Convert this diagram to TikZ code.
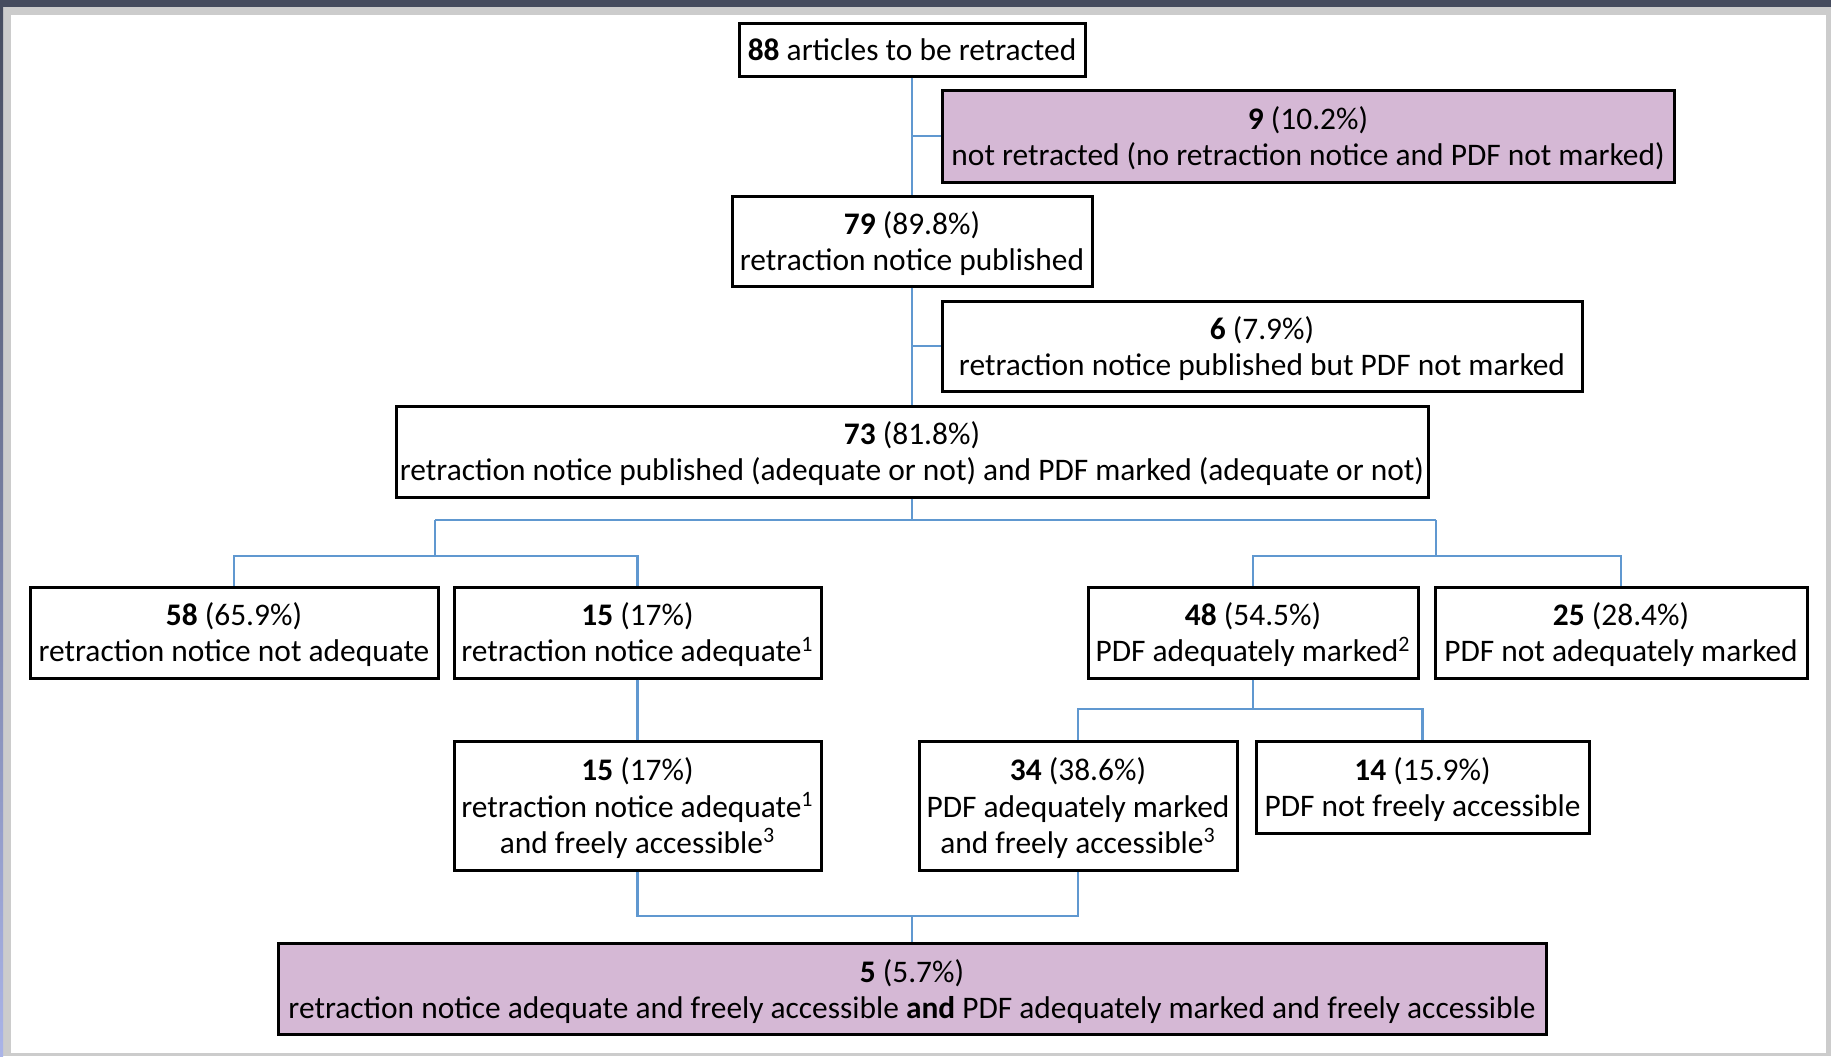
\documentclass[tikz,border=0pt]{standalone}
\usepackage{fontspec}
\setmainfont{Carlito}
\usepackage{tikz}
\usetikzlibrary{positioning}
\usepackage{xcolor}
\definecolor{boxpurple}{RGB}{213,184,213}
\definecolor{linkblue}{RGB}{96,152,208}
\definecolor{bardark}{RGB}{69,75,94}
\definecolor{framegray}{RGB}{204,204,204}
\definecolor{edgeblue}{RGB}{170,180,232}

\begin{document}
\begin{tikzpicture}[
  x=0.5pt, y=-0.5pt,
  every node/.style={font=\fontsize{15.7pt}{18pt}\selectfont, align=center},
  box/.style   ={rectangle, draw, line width=1.5pt, fill=white, inner sep=0pt, text depth=0pt},
  hilite/.style={box, fill=boxpurple},
  link/.style  ={draw=linkblue, line width=1.2pt}
]

%% screenshot frame
\useasboundingbox (0,0) rectangle (1831,1056);
\fill[framegray] (0,0) rectangle (1831,1056);
\fill[white] (11,15) rectangle (1826,1053);
\fill[bardark] (0,0) rectangle (1831,7);
\shade[top color=bardark, bottom color=edgeblue] (0,7) rectangle (3,1056);

%% trunk
\node[box, minimum width=173pt, minimum height=26.5pt] (n88) at (912,49.5)
  {\textbf{88} articles to be retracted};
\node[hilite, minimum width=366pt, minimum height=46pt] (n9) at (1308,136)
  {\textbf{9} (10.2\%)\\not retracted (no retraction notice and PDF not marked)};
\node[box, minimum width=180pt, minimum height=45pt] (n79) at (912,241)
  {\textbf{79} (89.8\%)\\retraction notice published};
\node[box, minimum width=320pt, minimum height=45pt] (n6) at (1262,346)
  {\textbf{6} (7.9\%)\\retraction notice published but PDF not marked};
\node[box, minimum width=516pt, minimum height=45.5pt] (n73) at (912,451.5)
  {\textbf{73} (81.8\%)\\retraction notice published (adequate or not) and PDF marked (adequate or not)};

%% second row
\node[box, minimum width=204pt, minimum height=45.5pt] (n58) at (234,632.5)
  {\textbf{58} (65.9\%)\\retraction notice not adequate};
\node[box, minimum width=183.5pt, minimum height=45.5pt] (n15) at (637.5,632.5)
  {\textbf{15} (17\%)\\retraction notice adequate\textsuperscript{1}};
\node[box, minimum width=165pt, minimum height=45.5pt] (n48) at (1253,632.5)
  {\textbf{48} (54.5\%)\\PDF adequately marked\textsuperscript{2}};
\node[box, minimum width=186pt, minimum height=45.5pt] (n25) at (1621,632.5)
  {\textbf{25} (28.4\%)\\PDF not adequately marked};

%% third row
\node[box, minimum width=183.5pt, minimum height=64.5pt] (n15b) at (637.5,805.5)
  {\textbf{15} (17\%)\\retraction notice adequate\textsuperscript{1}\\and freely accessible\textsuperscript{3}};
\node[box, minimum width=159pt, minimum height=64.5pt] (n34) at (1078,805.5)
  {\textbf{34} (38.6\%)\\PDF adequately marked\\and freely accessible\textsuperscript{3}};
\node[box, minimum width=166.5pt, minimum height=46pt] (n14) at (1422.5,787)
  {\textbf{14} (15.9\%)\\PDF not freely accessible};

%% result
\node[hilite, minimum width=634pt, minimum height=45.5pt] (n5) at (912,988.5)
  {\textbf{5} (5.7\%)\\retraction notice adequate and freely accessible \textbf{and} PDF adequately marked and freely accessible};

%% junction points
\coordinate (split)    at (912,520);
\coordinate (splitL)   at (435,520);
\coordinate (splitR)   at (1436,520);
\coordinate (subL)     at (435,556);
\coordinate (subR)     at (1436,556);
\coordinate (pdfsplit) at (1253,709);
\coordinate (merge)    at (912,916);

%% connectors
\draw[link] (n88) -- (n79);
\draw[link] (n88.south |- n9.west) -- (n9.west);
\draw[link] (n79) -- (n73);
\draw[link] (n79.south |- n6.west) -- (n6.west);

\draw[link] (n73) -- (split);
\draw[link] (splitL) -- (splitR);
\draw[link] (splitL) -- (subL);
\draw[link] (splitR) -- (subR);
\draw[link] (n58.north) |- (n15.north |- subL) -- (n15.north);
\draw[link] (n48.north) |- (n25.north |- subR) -- (n25.north);

\draw[link] (n15) -- (n15b);
\draw[link] (n48) -- (pdfsplit);
\draw[link] (n34.north) |- (n14.north |- pdfsplit) -- (n14.north);

\draw[link] (n15b.south) |- (n34.south |- merge) -- (n34.south);
\draw[link] (merge) -- (n5);

\end{tikzpicture}
\end{document}
